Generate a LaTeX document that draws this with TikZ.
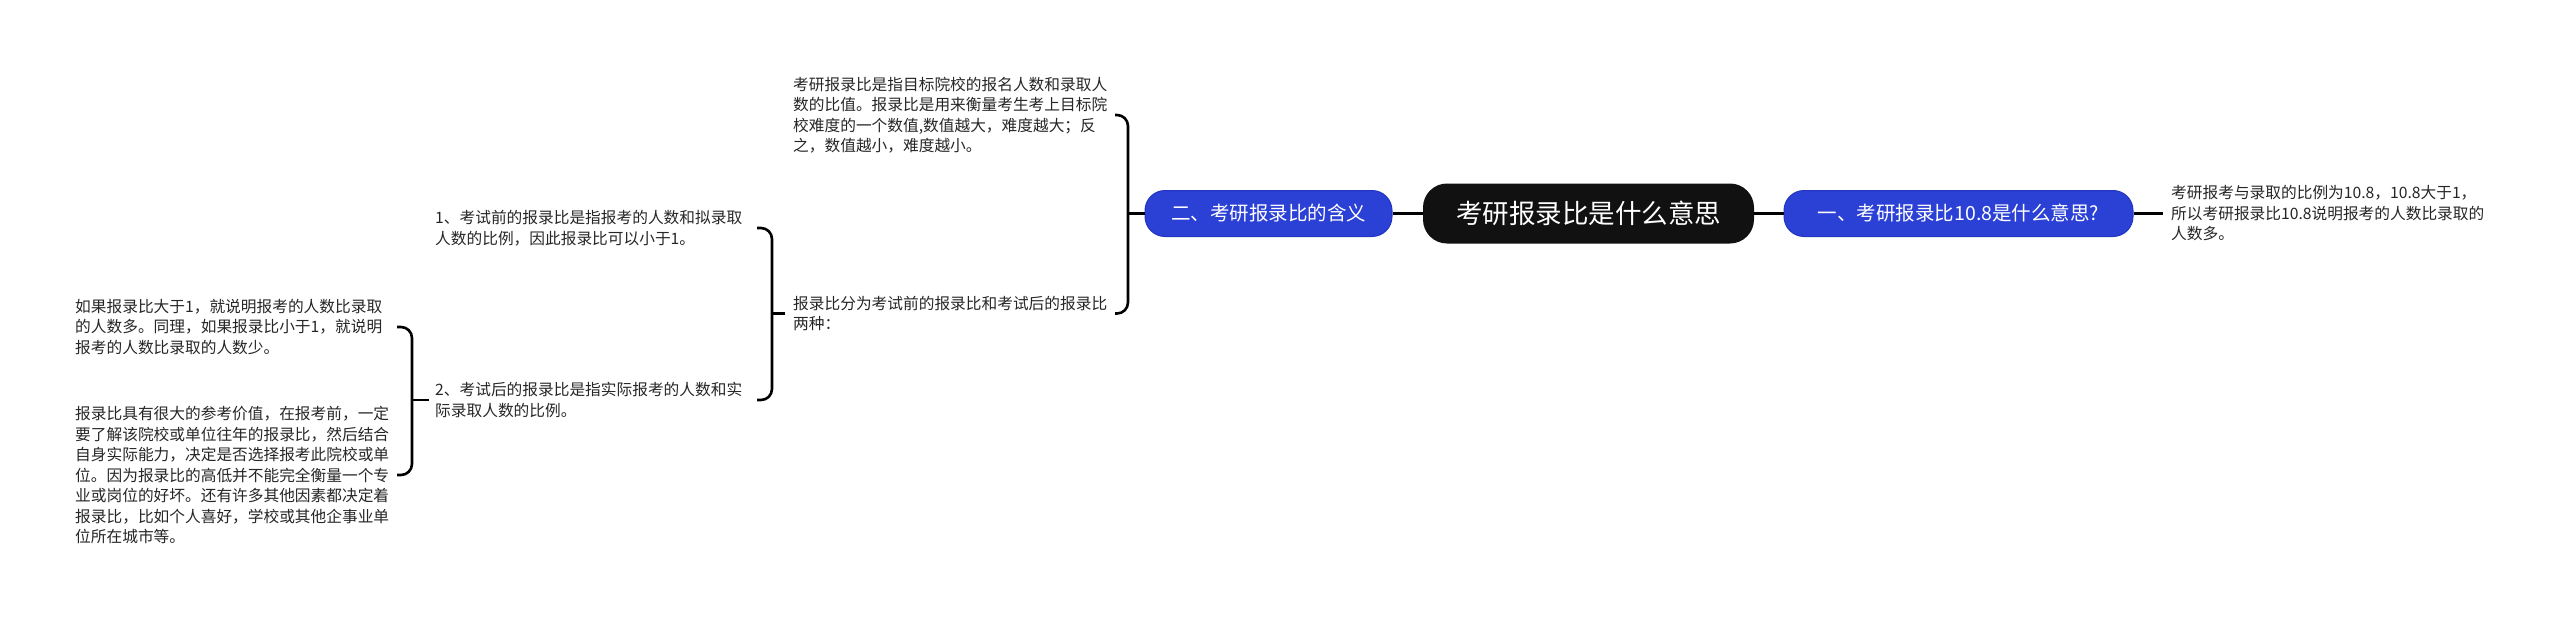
\documentclass[tikz,border=0pt]{standalone}
\usepackage{fontspec}
\setmainfont{Noto Sans CJK SC}
\usetikzlibrary{calc}
\definecolor{hubblue}{HTML}{2B40D4}
\definecolor{hubedge}{HTML}{2236C0}
\definecolor{rootblack}{HTML}{111111}
\definecolor{leafgray}{HTML}{262626}
\begin{document}
\begin{tikzpicture}[x=1pt,y=-1pt,
  conn/.style={line width=2.6pt, draw=black},
  brk/.style={conn, rounded corners=11pt},
  root/.style={fill=rootblack, rounded corners=24pt, minimum width=331pt, minimum height=60pt, text=white, font=\fontsize{26.5}{30}\selectfont, inner sep=0pt},
  topic/.style={fill=hubblue, draw=hubedge, line width=1pt, rounded corners=20pt, minimum height=46pt, text=white, font=\fontsize{19.5}{24}\selectfont, inner sep=0pt},
  leaf/.style={anchor=west, inner sep=0pt, align=left, text=leafgray, font=\fontsize{15.7}{20.5}\selectfont},
]
\useasboundingbox (0,0) rectangle (2560,621);

\node[root] (root) at (1588.5,213.5) {考研报录比是什么意思};
\node[topic, minimum width=349pt] (R1) at (1958.5,213.5) {一、考研报录比10.8是什么意思?};
\node[topic, minimum width=247pt] (L2) at (1268.5,213.5) {二、考研报录比的含义};

\node[leaf] (RT) at (2171,213.5) {考研报考与录取的比例为10.8，10.8大于1，\\所以考研报录比10.8说明报考的人数比录取的\\人数多。};

\node[leaf] (A) at (793,115) {考研报录比是指目标院校的报名人数和录取人\\数的比值。报录比是用来衡量考生考上目标院\\校难度的一个数值,数值越大，难度越大；反\\之，数值越小，难度越小。};
\node[leaf] (B) at (793,313.5) {报录比分为考试前的报录比和考试后的报录比\\两种：};
\node[leaf] (C) at (435,228) {1、考试前的报录比是指报考的人数和拟录取\\人数的比例，因此报录比可以小于1。};
\node[leaf] (D) at (435,400) {2、考试后的报录比是指实际报考的人数和实\\际录取人数的比例。};
\node[leaf] (E) at (75,327) {如果报录比大于1，就说明报考的人数比录取\\的人数多。同理，如果报录比小于1，就说明\\报考的人数比录取的人数少。};
\node[leaf] (F) at (75,475) {报录比具有很大的参考价值，在报考前，一定\\要了解该院校或单位往年的报录比，然后结合\\自身实际能力，决定是否选择报考此院校或单\\位。因为报录比的高低并不能完全衡量一个专\\业或岗位的好坏。还有许多其他因素都决定着\\报录比，比如个人喜好，学校或其他企事业单\\位所在城市等。};

% root connectors
\draw[conn] (root.east) -- (R1.west);
\draw[conn] (root.west) -- (L2.east);
\draw[conn] (R1.east) -- ($(RT.west)+(-8,0)$);

% bracket 1
\coordinate (j1) at (1128,213.5);
\draw[conn] (L2.west) -- (j1);
\draw[brk] ($(j1|-A)+(-13,0)$) -- (j1|-A) -- (j1|-B) -- ($(j1|-B)+(-13,0)$);

% bracket 2
\coordinate (j2) at (772,313.5);
\draw[conn] ($(B.west)+(-8,0)$) -- (j2);
\draw[brk] ($(j2|-C)+(-15,0)$) -- (j2|-C) -- (j2|-D) -- ($(j2|-D)+(-15,0)$);

% bracket 3
\coordinate (j3) at (412,400);
\draw[conn] ($(D.west)+(-6,0)$) -- (j3);
\draw[brk] ($(j3|-E)+(-15,0)$) -- (j3|-E) -- (j3|-F) -- ($(j3|-F)+(-15,0)$);
\end{tikzpicture}
\end{document}
